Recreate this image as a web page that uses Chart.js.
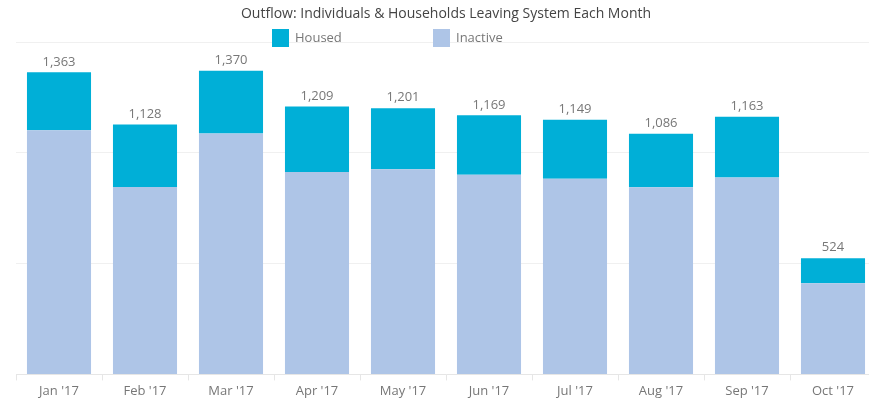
<!DOCTYPE html>
<html>
<head>
<meta charset="utf-8">
<script src="https://cdn.jsdelivr.net/npm/chart.js@4.4.1/dist/chart.umd.min.js"></script>
<style>
  html, body { margin: 0; padding: 0; background: #fff; overflow: hidden; }
  #wrap { width: 869px; height: 398px; overflow: hidden; }
</style>
</head>
<body>
<div id="wrap"><canvas id="chart" width="880" height="402"></canvas></div>
<script>
const months = ["Jan '17", "Feb '17", "Mar '17", "Apr '17", "May '17", "Jun '17", "Jul '17", "Aug '17", "Sep '17", "Oct '17"];
const inactive = [1102, 846, 1087, 913, 926, 901, 883, 845, 889, 411];
const housed = [261, 282, 283, 296, 275, 268, 266, 241, 274, 113];

const titleText = 'Outflow: Individuals & Households Leaving System Each Month';
const housedColor = '#00afd7';
const inactiveColor = '#aec5e7';
const fontName = '"Open Sans", "Noto Sans", sans-serif';

// title, legend and the totals over each bar
const extras = {
    id: 'extras',
    afterDraw(chart) {
        const c = chart.ctx;
        c.save();
        c.fillStyle = '#444';
        c.font = '14px ' + fontName;
        c.textAlign = 'center';
        c.textBaseline = 'middle';
        c.fillText(titleText, 446, 14);

        const items = [
            { label: 'Housed', color: housedColor, x: 272 },
            { label: 'Inactive', color: inactiveColor, x: 433 }
        ];
        c.font = '13px ' + fontName;
        c.textAlign = 'left';
        items.forEach(it => {
            c.fillStyle = it.color;
            c.fillRect(it.x, 29, 17, 18);
            c.fillStyle = '#777';
            c.fillText(it.label, it.x + 23, 38);
        });

        const meta = chart.getDatasetMeta(1);
        c.textAlign = 'center';
        c.textBaseline = 'bottom';
        c.fillStyle = '#777';
        meta.data.forEach((bar, i) => {
            const total = inactive[i] + housed[i];
            c.fillText(total.toLocaleString('en-US'), bar.x, bar.y - 4);
        });
        c.restore();
    }
};

new Chart(document.getElementById('chart'), {
    type: 'bar',
    data: {
        labels: months,
        datasets: [
            { label: 'Inactive', data: inactive, backgroundColor: inactiveColor },
            { label: 'Housed', data: housed, backgroundColor: housedColor }
        ]
    },
    options: {
        responsive: false,
        animation: false,
        layout: { padding: { top: 42, left: 16, right: 4, bottom: 0 } },
        datasets: { bar: { categoryPercentage: 1, barPercentage: 0.745 } },
        plugins: {
            legend: { display: false },
            title: { display: false },
            tooltip: { enabled: false }
        },
        scales: {
            x: {
                stacked: true,
                grid: { drawOnChartArea: false, drawTicks: true, tickLength: 6, color: '#e6e6e6' },
                border: { color: '#e6e6e6' },
                ticks: { color: '#777', font: { family: fontName, size: 13 }, padding: 3, maxRotation: 0 }
            },
            y: {
                stacked: true,
                min: 0,
                max: 1500,
                ticks: { display: false, stepSize: 500 },
                grid: { color: '#f0f0f0', drawTicks: false },
                border: { display: false }
            }
        }
    },
    plugins: [extras]
});
</script>
</body>
</html>
